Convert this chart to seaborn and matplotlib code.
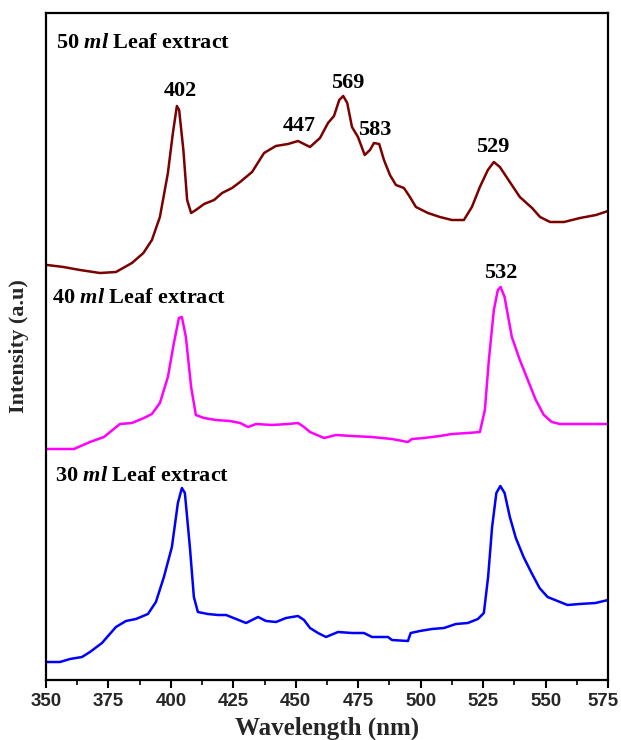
import matplotlib
matplotlib.use("Agg")
import matplotlib.pyplot as plt
import matplotlib.transforms as mtransforms
import seaborn as sns
import pandas as pd
from matplotlib.ticker import MultipleLocator

# ---- data (intensity in arbitrary offset units) ----
wl_50 = [350.5, 357, 363.6, 371.6, 378, 384.4, 389, 392.4, 395.6, 398.8, 400.8, 402.4, 403.3,
         405, 406.5, 408.1, 410, 413.3, 417.3, 420.5, 424.5, 427.7, 432.5, 437.3, 442, 446.9,
         450.9, 453.3, 455.7, 459.7, 462.9, 465.3, 467.4, 469, 470.6, 472.5, 474.9, 477.6,
         479.7, 481.3, 483.4, 485.3, 487.7, 490.1, 493.3, 495.7, 498.1, 502.9, 507.7, 512.5,
         517.3, 520.5, 523.7, 526.9, 529.3, 531.7, 535.7, 539.7, 544.6, 547.8, 551.8, 557.4,
         563.8, 570.2, 575]
int_50 = [415, 413, 410, 407, 408, 417, 427, 440, 463, 507, 547, 574, 570,
          530, 480, 467, 470, 476, 480, 487, 492, 498, 508, 527, 534, 536,
          539, 536, 533, 542, 557, 564, 580, 584, 577, 553, 543, 525,
          530, 537, 536, 520, 505, 495, 492, 483, 473, 467, 463, 460,
          460, 473, 493, 510, 518, 513, 498, 483, 472, 463, 458, 458,
          462, 465, 469]

wl_40 = [350.5, 361.2, 367.6, 373.2, 379.6, 384.4, 389.2, 392.4, 395.6, 398.8, 401.2, 403.2,
         404.4, 406, 408.1, 410, 413.3, 418, 423.7, 427.7, 430.9, 434.1, 440.5, 446.9, 450.9,
         453.3, 455.7, 461.3, 466.1, 472.5, 480.5, 488.5, 494.9, 496.5, 501.3, 507.7, 512.5,
         518.9, 523.7, 525.7, 527.3, 529.3, 530.9, 532, 533.6, 536.5, 539.7, 542.9, 546.1,
         549.3, 552.5, 555.7, 563.8, 575]
int_40 = [231, 231, 238, 243, 256, 257, 262, 266, 277, 303, 337, 362,
          363, 343, 293, 265, 262, 260, 259, 257, 253, 256, 255, 256, 257,
          253, 248, 242, 245, 244, 243, 241, 238, 241, 242, 244, 246,
          247, 248, 270, 320, 370, 390, 393, 383, 343, 320, 300, 280,
          265, 258, 256, 256, 256]

wl_30 = [350.5, 355.6, 359.6, 364.4, 367.6, 372.4, 378, 382, 386, 390.8, 394, 397.2, 400.4,
         402.8, 404.4, 405.6, 407.6, 409.2, 410.8, 414.8, 418.9, 422.1, 426.1, 430.1, 432.5,
         434.9, 438.1, 442.1, 446.1, 450.9, 453.3, 455.7, 458.9, 462.1, 466.9, 472.5, 477.3,
         480.5, 486.9, 488.5, 494.9, 496, 499.7, 504.5, 509.3, 514.1, 518.9, 522.9, 525.3,
         527, 528.6, 530.3, 531.9, 533.6, 535.7, 538.1, 541.2, 544.4, 547.6, 550.8, 554.8,
         558.8, 563.6, 570, 575]
int_30 = [18, 18, 21, 23, 28, 37, 53, 59, 61, 66, 78, 103, 133,
          177, 192, 187, 133, 83, 68, 66, 65, 65, 61, 57, 60,
          63, 59, 58, 62, 64, 60, 52, 47, 43, 48, 47, 47,
          43, 43, 40, 39, 47, 49, 51, 52, 56, 57, 61, 67,
          103, 153, 187, 194, 187, 163, 142, 123, 107, 92, 83, 79,
          75, 76, 77, 80]

series_names = ["50 ml", "40 ml", "30 ml"]
series_colors = ["#7B0000", "#FF00FF", "#0000FF"]
panel_labels = [r"50 $\mathit{ml}$ Leaf extract", r"40 $\mathit{ml}$ Leaf extract",
                r"30 $\mathit{ml}$ Leaf extract"]
peak_labels = ["402", "447", "569", "583", "529", "532"]
peak_pos_x = [403.6, 451.3, 470.9, 481.7, 529.0, 532.1]
peak_pos_y = [589, 554, 597, 550, 533, 407]
xticks = [350, 375, 400, 425, 450, 475, 500, 525, 550, 575]

df = pd.concat([
    pd.DataFrame({"wl": wl_50, "I": int_50, "s": series_names[0]}),
    pd.DataFrame({"wl": wl_40, "I": int_40, "s": series_names[1]}),
    pd.DataFrame({"wl": wl_30, "I": int_30, "s": series_names[2]}),
])

sns.set_theme(style="ticks")
plt.rcParams["font.family"] = ["Liberation Serif", "DejaVu Serif"]
plt.rcParams["mathtext.fontset"] = "custom"
plt.rcParams["mathtext.rm"] = "Liberation Serif:bold"
plt.rcParams["mathtext.it"] = "Liberation Serif:italic:bold"
plt.rcParams["mathtext.bf"] = "Liberation Serif:bold"

fig = plt.figure(figsize=(6.21, 7.40), dpi=100)
ax = fig.add_axes([46/621, 60/740, (608-46)/621, (680-13)/740])

sns.lineplot(data=df, x="wl", y="I", hue="s", palette=dict(zip(series_names, series_colors)),
             sort=False, linewidth=1.8, legend=False, ax=ax)

ax.set_xlim(350, 575)
ax.set_ylim(0, 667)
ax.set_xticks(xticks)
ax.xaxis.set_minor_locator(MultipleLocator(12.5))
ax.set_yticks([])
ax.tick_params(axis="x", which="major", direction="out", length=6, width=1.5, color="black", pad=3)
ax.tick_params(axis="x", which="minor", direction="out", length=3.5, width=1.2, color="black")
ticks = ax.xaxis.get_major_ticks()
for tk in ticks:
    tk.label1.set_fontfamily("Liberation Sans")
    tk.label1.set_fontweight("bold")
    tk.label1.set_fontsize(13.5)
# nudge the last label slightly left so it stays inside the figure
shift = mtransforms.ScaledTranslation(-5/100, 0, fig.dpi_scale_trans)
ticks[-1].label1.set_transform(ticks[-1].label1.get_transform() + shift)
for sp in ax.spines.values():
    sp.set_linewidth(1.6)
    sp.set_color("black")

ax.set_xlabel("Wavelength (nm)", fontsize=18, fontweight="bold", labelpad=5)
ax.set_ylabel("Intensity (a.u)", fontsize=16, fontweight="bold", labelpad=12)

label_y = [637, 382, 204]
label_x = [354, 352.4, 353.6]
for t, x, y in zip(panel_labels, label_x, label_y):
    ax.text(x, y, t, fontsize=16, fontweight="bold", ha="left", va="center", color="black")
for t, x, y in zip(peak_labels, peak_pos_x, peak_pos_y):
    ax.text(x, y, t, fontsize=16, fontweight="bold", ha="center", va="center", color="black")

fig.savefig("out.png", dpi=100)
